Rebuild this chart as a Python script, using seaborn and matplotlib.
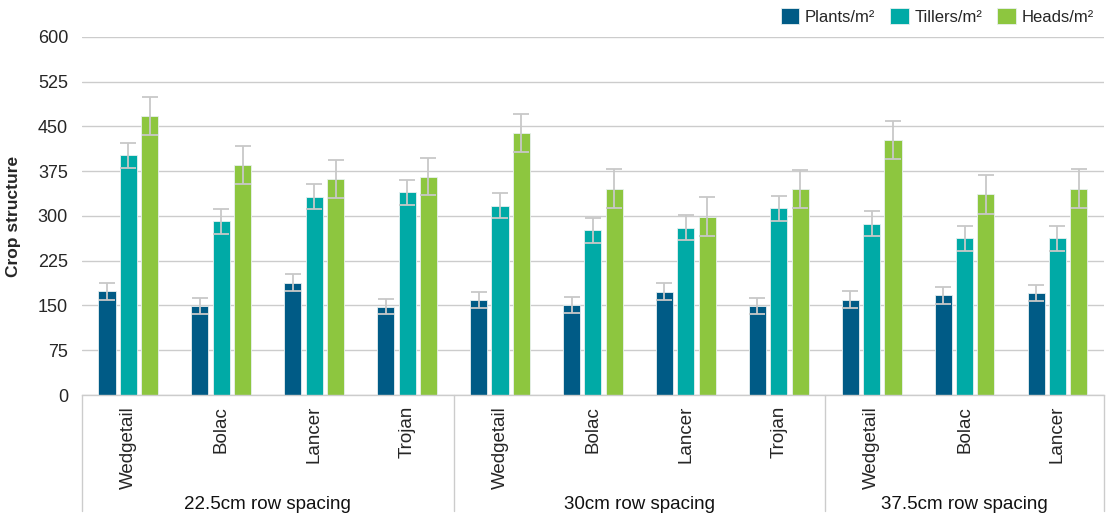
import numpy as np
import pandas as pd
import matplotlib
matplotlib.use("Agg")
import matplotlib.pyplot as plt
import matplotlib.transforms as mtransforms
import seaborn as sns

# ---------------------------------------------------------------------------
# Data
# ---------------------------------------------------------------------------
spacings = ["22.5cm row spacing", "30cm row spacing", "37.5cm row spacing"]
varieties = [
    ["Wedgetail", "Bolac", "Lancer", "Trojan"],
    ["Wedgetail", "Bolac", "Lancer", "Trojan"],
    ["Wedgetail", "Bolac", "Lancer"],
]
series = ["Plants/m\u00b2", "Tillers/m\u00b2", "Heads/m\u00b2"]

plants = [174, 149, 188, 148, 159, 151, 173, 149, 160, 167, 171]
tillers = [402, 291, 332, 340, 317, 276, 280, 313, 287, 263, 263]
heads = [468, 385, 362, 366, 439, 346, 299, 345, 427, 336, 346]

plants_err = [14, 14, 14, 13, 14, 14, 14, 13, 14, 14, 14]
tillers_err = [21, 21, 21, 21, 21, 21, 21, 21, 21, 21, 21]
heads_err = [32, 32, 32, 31, 32, 32, 32, 32, 32, 32, 32]

colors = ["#005b86", "#00aaa6", "#8dc63f"]
grid_col = "#cccccc"

# long-form table for seaborn
keys, labels, groups = [], [], []
for g, names in zip(spacings, varieties):
    for v in names:
        keys.append(g + "|" + v)
        labels.append(v)
        groups.append(g)

df = pd.DataFrame({
    "key": keys * 3,
    "series": np.repeat(series, len(keys)),
    "value": plants + tillers + heads,
})
errs = [plants_err, tillers_err, heads_err]

# ---------------------------------------------------------------------------
# Plot
# ---------------------------------------------------------------------------
sns.set_style("white")
plt.rcParams["font.family"] = ["Liberation Sans", "DejaVu Sans"]

fig = plt.figure(figsize=(11.06, 5.13), dpi=100)
ax = fig.add_axes([0.0741, 0.230, 0.924, 0.698])

sns.barplot(
    data=df, x="key", y="value", hue="series", order=keys, hue_order=series,
    palette=colors, saturation=1, width=0.69, gap=0.2, errorbar=None,
    edgecolor="#e8f0f0", linewidth=0.6, ax=ax,
)

# error bars from bar geometry
for cont, err in zip(ax.containers, errs):
    xs = [p.get_x() + p.get_width() / 2 for p in cont.patches]
    ys = [p.get_height() for p in cont.patches]
    ax.errorbar(xs, ys, yerr=err, fmt="none", ecolor="#c8c8c8",
                elinewidth=1.3, capsize=6, capthick=1.3, zorder=3)

ax.set_ylim(0, 600)
ax.set_xlim(-0.5, len(keys) - 0.5)
ax.set_yticks(np.arange(0, 601, 75))
ax.yaxis.grid(True, color=grid_col, linewidth=1)
ax.set_axisbelow(True)
ax.tick_params(axis="y", labelsize=13, length=0, pad=10)
ax.tick_params(axis="x", length=0, pad=8)
ax.set_xticks(range(len(keys)))
ax.set_xticklabels(labels, rotation=90, fontsize=13.5)
ax.set_xlabel("")
ax.set_ylabel("Crop structure", fontsize=12.5, fontweight="bold", labelpad=12)

for s in ["top", "right", "left"]:
    ax.spines[s].set_visible(False)
ax.spines["bottom"].set_color(grid_col)
ax.spines["bottom"].set_linewidth(1)

# group separators and group labels below the axis
trans = mtransforms.blended_transform_factory(ax.transData, ax.transAxes)
bounds = [-0.5]
start = 0
for g, names in zip(spacings, varieties):
    end = start + len(names)
    bounds.append(end - 0.5)
    ax.text((start + end - 1) / 2, -0.305, g, transform=trans,
            ha="center", va="center", fontsize=13.5, color="#111111")
    start = end
for b in bounds:
    ax.plot([b, b], [0, -0.325], transform=trans, color=grid_col,
            linewidth=1, clip_on=False)

# legend
ax.legend(loc="lower right", bbox_to_anchor=(1.0, 1.005), ncol=3,
          frameon=False, fontsize=12, handlelength=1.1, handleheight=1.1,
          handletextpad=0.35, columnspacing=0.9, borderaxespad=0.2)

fig.savefig("out.png", dpi=100)
plt.close(fig)
